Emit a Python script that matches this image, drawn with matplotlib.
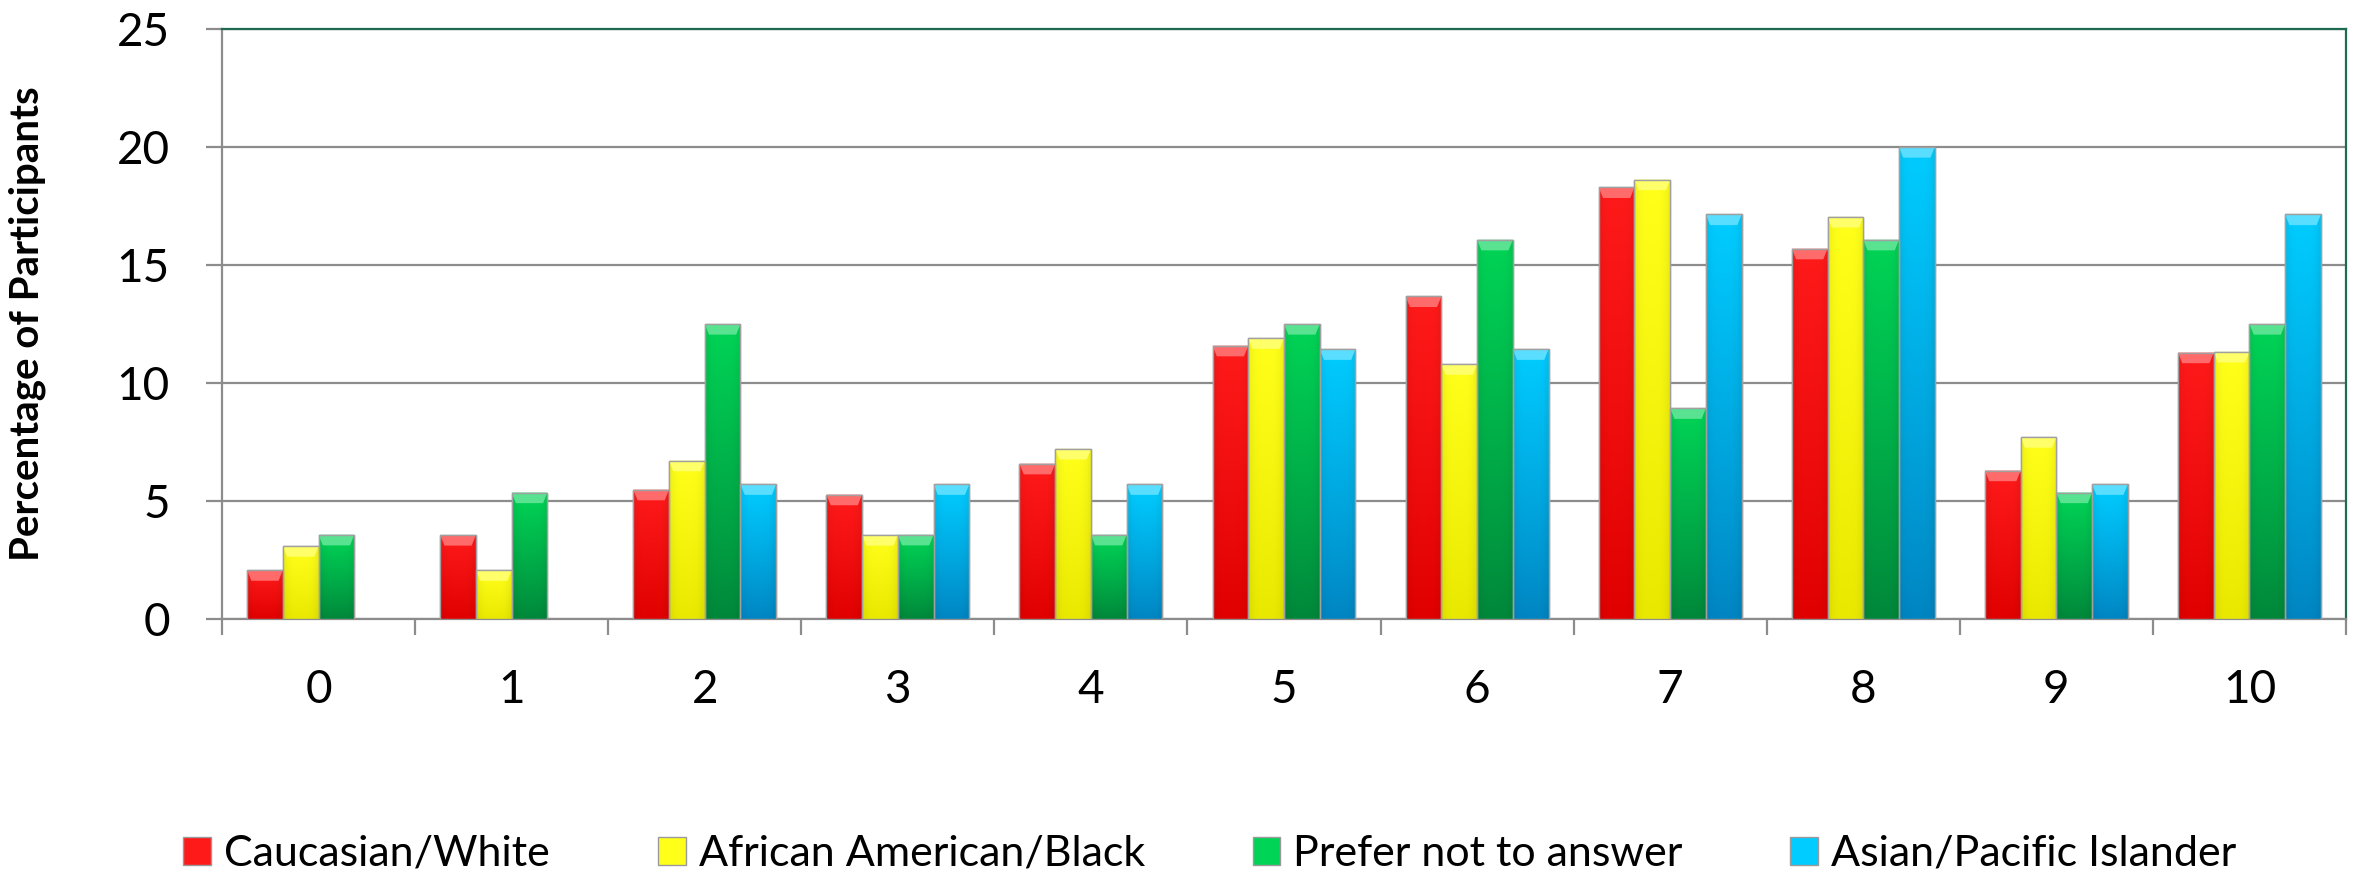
import numpy as np
import matplotlib
matplotlib.use("Agg")
import matplotlib.pyplot as plt
from matplotlib.patches import Patch, Polygon
from matplotlib.colors import to_rgb

plt.rcParams['font.family'] = ['Lato', 'DejaVu Sans']

# ---- data ----
categories = ['0', '1', '2', '3', '4', '5', '6', '7', '8', '9', '10']
series_names = ['Caucasian/White', 'African American/Black',
                'Prefer not to answer', 'Asian/Pacific Islander']
caucasian = [2.07, 3.56, 5.48, 5.27, 6.58, 11.58, 13.67, 18.29, 15.69, 6.29, 11.29]
african = [3.09, 2.07, 6.71, 3.56, 7.21, 11.90, 10.80, 18.62, 17.04, 7.71, 11.32]
prefer_not = [3.57, 5.36, 12.50, 3.57, 3.57, 12.50, 16.07, 8.93, 16.07, 5.36, 12.50]
asian = [np.nan, np.nan, 5.71, 5.71, 5.71, 11.43, 11.43, 17.14, 20.00, 5.71, 17.14]
yticks = [0, 5, 10, 15, 20, 25]

series = [caucasian, african, prefer_not, asian]
top_colors = ['#FF1A1A', '#FFFF1A', '#00D456', '#00CCFF']
bot_colors = ['#E00000', '#E8E800', '#00873A', '#0085C2']

W, H = 2357, 874
fig = plt.figure(figsize=(W / 100, H / 100), dpi=100)
ax = fig.add_axes([222 / W, 1 - 619 / H, (2346 - 222) / W, (619 - 29) / H])

x = np.arange(len(categories))
bw = 0.185
offsets = (np.arange(4) - 1.5) * bw

for k, vals in enumerate(series):
    v = np.array(vals, dtype=float)
    bars = ax.bar(x + offsets[k], v, bw, color=top_colors[k],
                  edgecolor='#9A9A9A', linewidth=1.0, zorder=3)
    t = np.array(to_rgb(top_colors[k]))
    b = np.array(to_rgb(bot_colors[k]))
    for p in bars:
        h = p.get_height()
        if not np.isfinite(h) or h <= 0:
            continue
        x0, y0, w = p.get_x(), p.get_y(), p.get_width()
        # vertical gradient (light top -> darker bottom) with slightly darker sides
        ny, nx = 64, 16
        fy = np.linspace(0, 1, ny)[:, None, None]
        g = (1 - fy) ** 0.9
        col = t[None, None, :] * g + b[None, None, :] * (1 - g)
        col = np.repeat(col, nx, axis=1)
        side = np.abs(np.linspace(-1, 1, nx))
        shade = 1 - 0.06 * side ** 4
        img = np.clip(col * shade[None, :, None], 0, 1)
        im = ax.imshow(img, extent=(x0, x0 + w, y0, y0 + h), aspect='auto',
                       interpolation='bicubic', zorder=3.2)
        im.set_clip_path(p)
        # top bevel
        bev = min(0.45, h * 0.5)
        light = np.clip(t + (1 - t) * 0.35, 0, 1)
        ax.add_patch(Polygon([(x0, y0 + h), (x0 + w, y0 + h),
                              (x0 + w * 0.88, y0 + h - bev), (x0 + w * 0.12, y0 + h - bev)],
                             closed=True, facecolor=light, edgecolor='none', zorder=3.3))
        ax.add_patch(Polygon([(x0, y0), (x0, y0 + h), (x0 + w, y0 + h), (x0 + w, y0)],
                             closed=True, fill=False, edgecolor='#A0A0A0',
                             linewidth=1.0, zorder=3.4))

ax.set_xlim(-0.5, len(categories) - 0.5)
ax.set_ylim(0, 25)

# grid and spines
ax.set_yticks(yticks)
ax.yaxis.grid(True, color='#8C8C8C', linewidth=1.6, zorder=1)
ax.set_axisbelow(True)
for s in ('top', 'right'):
    ax.spines[s].set_color('#1E6B50')
    ax.spines[s].set_linewidth(1.6)
for s in ('left', 'bottom'):
    ax.spines[s].set_color('#8C8C8C')
    ax.spines[s].set_linewidth(1.6)

ax.tick_params(axis='y', which='major', length=11.5, width=1.6, color='#8C8C8C',
               labelsize=33, pad=26)
ax.set_xticks(x)
ax.set_xticklabels(categories)
ax.set_xticks(np.arange(len(categories) + 1) - 0.5, minor=True)
ax.tick_params(axis='x', which='major', length=0, labelsize=33, pad=36)
ax.tick_params(axis='x', which='minor', length=11.5, width=1.6, color='#8C8C8C')

fig.text(27 / W, 1 - 324 / H, 'Percentage of Participants', rotation=90,
         ha='center', va='center', fontsize=29, fontweight='bold')

handles = [Patch(facecolor=c, edgecolor='#9A9A9A', linewidth=1.0) for c in top_colors]
fig.legend(handles, series_names, loc='center', bbox_to_anchor=(1210 / W, 1 - 854 / H),
           ncol=4, frameon=False, fontsize=31, handlelength=0.65, handleheight=0.65,
           handletextpad=0.3, columnspacing=2.5, borderaxespad=0, borderpad=0)

fig.savefig('out.png', dpi=100)
